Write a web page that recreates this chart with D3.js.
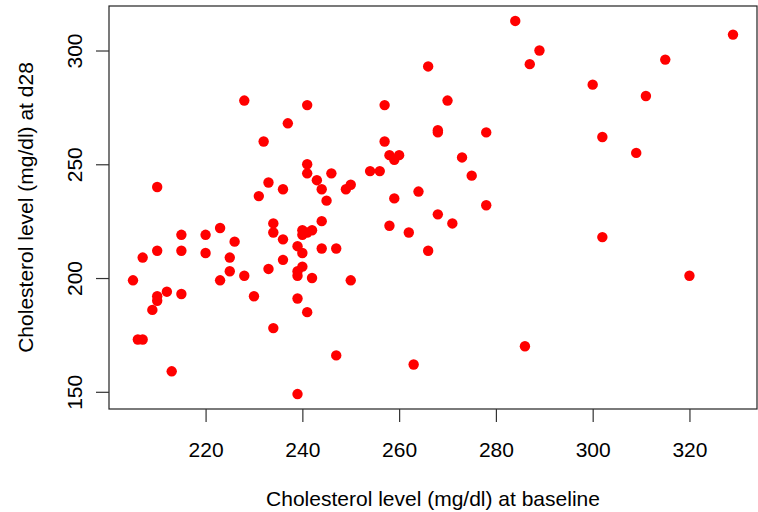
<!DOCTYPE html>
<html>
<head>
<meta charset="utf-8">
<script src="https://cdn.jsdelivr.net/npm/d3@7"></script>
<style>
  body { margin: 0; background: #fff; }
  svg text { font-family: "Liberation Sans", Arial, Helvetica, sans-serif; fill: #000; }
</style>
</head>
<body>
<svg id="chart" width="758" height="512"></svg>
<script>
// cholesterol at baseline (x) and at day 28 (y)
var baseline = [228, 241, 237, 232, 241, 241, 243, 244, 210, 233,
                236, 231, 234, 234, 236, 223, 226, 215, 220, 210,
                215, 220, 207, 225, 225, 228, 223, 205, 212, 210,
                210, 215, 209, 206, 207, 213, 230, 233, 236, 234,
                239, 239, 241, 242, 239, 239, 240, 239, 240, 240,
                240, 241, 242, 244, 244, 245, 259, 278, 268, 271,
                258, 262, 266, 247, 250, 247, 263, 284, 266, 270,
                257, 268, 268, 278, 257, 258, 260, 259, 273, 275,
                246, 249, 250, 254, 256, 264, 289, 287, 329, 315,
                300, 311, 302, 309, 302, 320, 286];
var day28 = [278, 276, 268, 260, 250, 246, 243, 239, 240, 242,
             239, 236, 224, 220, 217, 222, 216, 219, 219, 212,
             212, 211, 209, 209, 203, 201, 199, 199, 194, 192,
             190, 193, 186, 173, 173, 159, 192, 204, 208, 178,
             149, 191, 185, 200, 201, 203, 205, 214, 211, 221,
             219, 220, 221, 213, 225, 234, 235, 232, 228, 224,
             223, 220, 212, 213, 199, 166, 162, 313, 293, 278,
             276, 265, 264, 264, 260, 254, 254, 252, 253, 245,
             246, 239, 241, 247, 247, 238, 300, 294, 307, 296,
             285, 280, 262, 255, 218, 201, 170];

var xTicks = [220, 240, 260, 280, 300, 320];
var yTicks = [150, 200, 250, 300];

var xLabel = "Cholesterol level (mg/dl) at baseline";
var yLabel = "Cholesterol level (mg/dl) at d28";

var plotLeft = 109, plotRight = 757, plotTop = 6, plotBottom = 409;
var fontSize = 21;

// R style: pad data range by 4% on each side
function padded(vals) {
  var ext = d3.extent(vals);
  var d = (ext[1] - ext[0]) * 0.04;
  return [ext[0] - d, ext[1] + d];
}

var xScale = d3.scaleLinear().domain(padded(baseline)).range([plotLeft, plotRight]);
var yScale = d3.scaleLinear().domain(padded(day28)).range([plotBottom, plotTop]);

var svg = d3.select("#chart");

var points = baseline.map(function(v, i) { return {x: v, y: day28[i]}; });

// points
svg.append("g")
  .selectAll("circle")
  .data(points)
  .join("circle")
  .attr("cx", function(d) { return xScale(d.x); })
  .attr("cy", function(d) { return yScale(d.y); })
  .attr("r", 5.2)
  .attr("fill", "#ff0000");

// box
svg.append("rect")
  .attr("x", plotLeft)
  .attr("y", plotTop)
  .attr("width", plotRight - plotLeft)
  .attr("height", plotBottom - plotTop)
  .attr("fill", "none")
  .attr("stroke", "#222")
  .attr("stroke-width", 1.2);

// x axis
var gx = svg.append("g")
  .attr("transform", "translate(0," + plotBottom + ")")
  .call(d3.axisBottom(xScale).tickValues(xTicks).tickSize(13).tickFormat(d3.format("d")));
gx.select(".domain").remove();
gx.selectAll("line").attr("stroke", "#333").attr("stroke-width", 1.2);
gx.selectAll("text")
  .attr("y", 48)
  .attr("dy", null)
  .style("font-size", fontSize + "px")
  .style("font-family", null);

// y axis, labels turned like R does
var gy = svg.append("g")
  .attr("transform", "translate(" + plotLeft + ",0)")
  .call(d3.axisLeft(yScale).tickValues(yTicks).tickSize(13).tickFormat(d3.format("d")));
gy.select(".domain").remove();
gy.selectAll("line").attr("stroke", "#333").attr("stroke-width", 1.2);
gy.selectAll("text")
  .attr("x", null)
  .attr("dy", null)
  .attr("text-anchor", "middle")
  .attr("transform", "translate(-27,0) rotate(-90)")
  .style("font-size", fontSize + "px")
  .style("font-family", null);

// axis titles
svg.append("text")
  .attr("x", (plotLeft + plotRight) / 2)
  .attr("y", 506)
  .attr("text-anchor", "middle")
  .style("font-size", fontSize + "px")
  .text(xLabel);

svg.append("text")
  .attr("transform", "rotate(-90)")
  .attr("x", -(plotTop + plotBottom) / 2)
  .attr("y", 33)
  .attr("text-anchor", "middle")
  .style("font-size", fontSize + "px")
  .text(yLabel);
</script>
</body>
</html>
